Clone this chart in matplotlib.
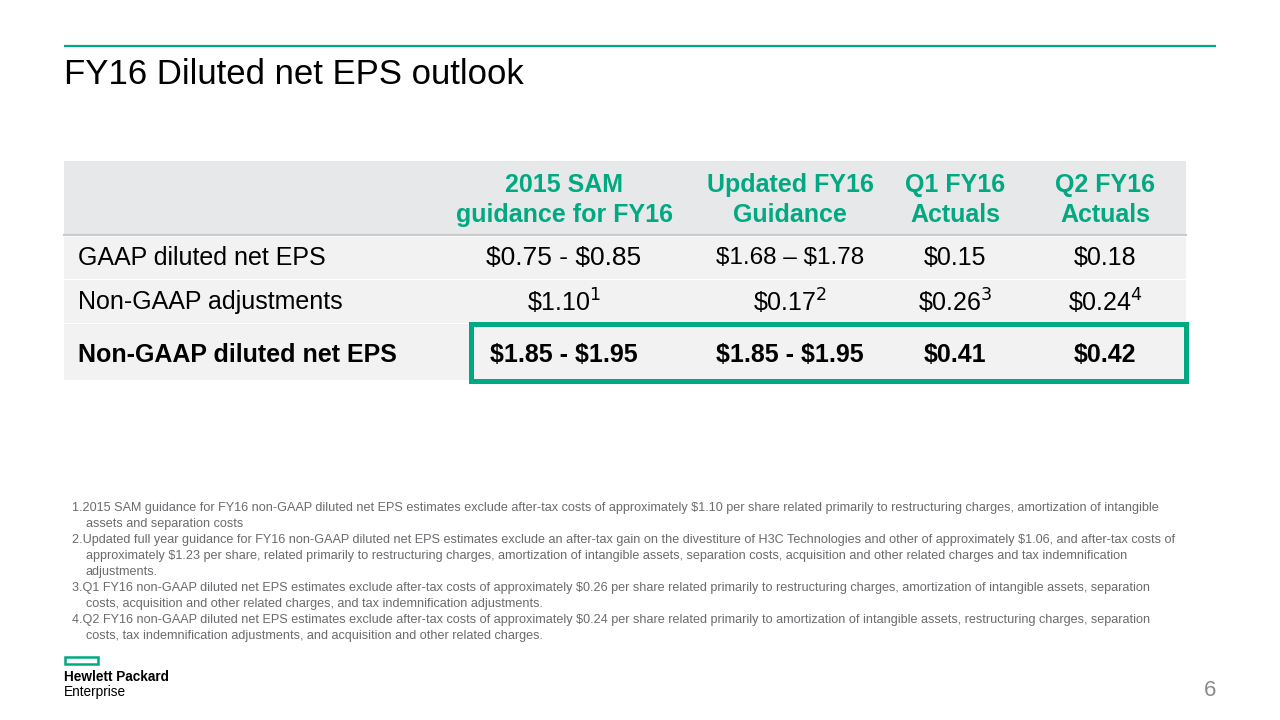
import matplotlib.pyplot as plt
import matplotlib.patches as mpatches

plt.rcParams['font.family'] = ['Liberation Sans', 'DejaVu Sans']
plt.rcParams['mathtext.fontset'] = 'custom'
plt.rcParams['mathtext.rm'] = 'Liberation Sans'
plt.rcParams['mathtext.default'] = 'regular'

# table contents
col_headers = ['2015 SAM\nguidance for FY16', 'Updated FY16\nGuidance', 'Q1 FY16\nActuals', 'Q2 FY16\nActuals']
row_labels = ['GAAP diluted net EPS', 'Non-GAAP adjustments', 'Non-GAAP diluted net EPS']
gaap_eps = ['$0.75 - $0.85', '$1.68 – $1.78', '$0.15', '$0.18']
adjustments = ['$1.10', '$0.17', '$0.26', '$0.24']
adj_notes = ['1', '2', '3', '4']
nongaap_eps = ['$1.85 - $1.95', '$1.85 - $1.95', '$0.41', '$0.42']

footnotes = [
    ('1.', ['2015 SAM guidance for FY16 non-GAAP diluted net EPS estimates exclude after-tax costs of approximately $1.10 per share related primarily to restructuring charges, amortization of intangible',
            'assets and separation costs']),
    ('2.', ['Updated full year guidance for FY16 non-GAAP diluted net EPS estimates exclude an after-tax gain on the divestiture of H3C Technologies and other of approximately $1.06, and after-tax costs of',
            'approximately $1.23 per share, related primarily to restructuring charges, amortization of intangible assets, separation costs, acquisition and other related charges and tax indemnification',
            'adjustments.']),
    ('3.', ['Q1 FY16 non-GAAP diluted net EPS estimates exclude after-tax costs of approximately $0.26 per share related primarily to restructuring charges, amortization of intangible assets, separation',
            'costs, acquisition and other related charges, and tax indemnification adjustments.']),
    ('4.', ['Q2 FY16 non-GAAP diluted net EPS estimates exclude after-tax costs of approximately $0.24 per share related primarily to amortization of intangible assets, restructuring charges, separation',
            'costs, tax indemnification adjustments, and acquisition and other related charges.']),
]

GREEN = '#01A982'

def esc(s):
    return s.replace('$', r'\$')

fig = plt.figure(figsize=(12.8, 7.2), dpi=100)
ax = fig.add_axes([0, 0, 1, 1])
ax.set_xlim(0, 1280)
ax.set_ylim(720, 0)
ax.axis('off')

# header line + title
ax.plot([64, 1216], [46, 46], color=GREEN, lw=1.6, solid_capstyle='butt')
ax.text(64, 75, 'FY16 Diluted net EPS outlook', fontsize=25, va='center', ha='left', color='black')

# table layout
left, right = 64, 1186
col_x = [564, 790, 955, 1105]
head_top, head_bot = 161, 235
row_edges = [236, 279, 323, 380]

ax.add_patch(mpatches.Rectangle((left, head_top), right - left, head_bot - head_top, color='#E7E8E9', lw=0))
ax.plot([left, right], [head_bot, head_bot], color='#C9CACB', lw=1.5)
for i in range(3):
    ax.add_patch(mpatches.Rectangle((left, row_edges[i] + 1), right - left, row_edges[i + 1] - row_edges[i] - 1,
                                    color='#F2F2F2', lw=0))

for x, h in zip(col_x, col_headers):
    ax.text(x, 200, h, ha='center', va='center', fontsize=18, fontweight='bold', color=GREEN, linespacing=1.3)

row_y = [258, 302, 355]
for y, lab, bold in zip(row_y, row_labels, [False, False, True]):
    ax.text(78, y, lab, ha='left', va='center', fontsize=18, fontweight='bold' if bold else 'normal')

gaap_sizes = [19, 17.5, 18, 18]
for x, v, fs in zip(col_x, gaap_eps, gaap_sizes):
    ax.text(x, row_y[0], esc(v), ha='center', va='center', fontsize=fs)
for x, v, n in zip(col_x, adjustments, adj_notes):
    ax.text(x, row_y[1], esc(v) + r'$^{\mathsf{' + n + '}}$', ha='center', va='center', fontsize=18)
for x, v in zip(col_x, nongaap_eps):
    ax.text(x, row_y[2], esc(v), ha='center', va='center', fontsize=18, fontweight='bold')

# highlight box
ax.add_patch(mpatches.Rectangle((471, 324), 715, 57, fill=False, edgecolor=GREEN, lw=3.6))

# footnotes
y = 508
for num, lines in footnotes:
    ax.text(72, y, num + esc(lines[0]), ha='left', va='center', fontsize=9.1, color='#6A6B6E')
    y += 16
    for ln in lines[1:]:
        ax.text(86, y, esc(ln), ha='left', va='center', fontsize=9.1, color='#6A6B6E')
        y += 16

# logo
ax.add_patch(mpatches.Rectangle((65, 657), 33, 6.5, fill=False, edgecolor=GREEN, lw=1.8))
ax.text(64, 677, 'Hewlett Packard', ha='left', va='center', fontsize=9.8, fontweight='bold')
ax.text(64, 692, 'Enterprise', ha='left', va='center', fontsize=9.8)

ax.text(1216, 690, '6', ha='right', va='center', fontsize=16, color='#8A8A8A')

plt.savefig('out.png', dpi=100)
